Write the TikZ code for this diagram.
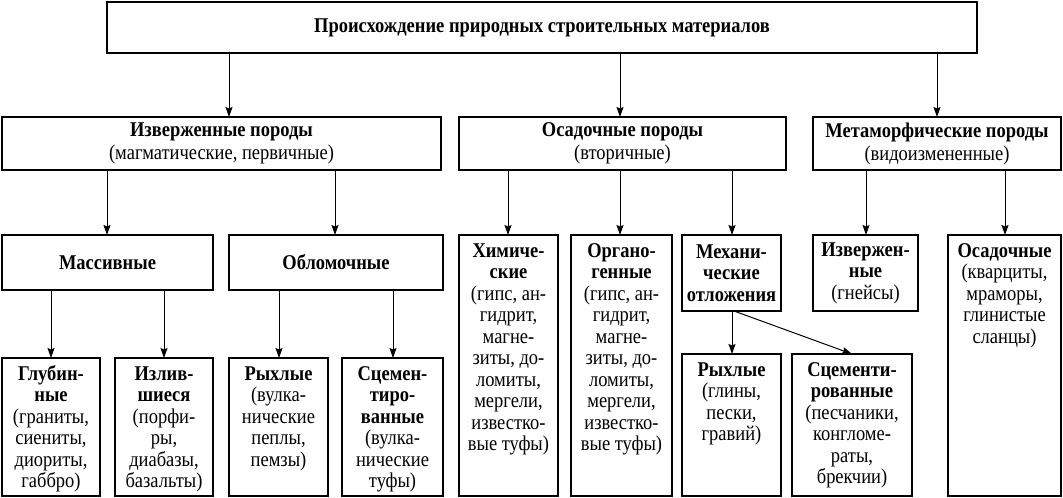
\documentclass[tikz,border=0pt]{standalone}
\usepackage{fontspec}
\setmainfont{Liberation Serif}[FakeStretch=0.88]
\usetikzlibrary{arrows.meta,calc}
\tikzset{
 box/.style={draw, line width=2.1pt, inner sep=0pt, outer sep=0pt, anchor=north west},
 arr/.style={-{Stealth[length=10pt,width=7pt,inset=1.5pt]}, line width=1pt},
}
\newcommand\bxc[3]{\parbox[c][#2][c]{#1}{\centering #3}}
\newcommand\bxt[3]{\parbox[c][#2][t]{#1}{\centering\vspace*{7pt}\strut #3}}
\begin{document}
\begin{tikzpicture}[x=1pt,y=-1pt,font=\fontsize{21}{21.5}\selectfont]
\useasboundingbox (0,0) rectangle (1063,498);
% row 1
\node[box] (top) at (107,2) {\bxc{870pt}{51pt}{\textbf{Происхождение природных строительных материалов}}};
% row 2
\node[box] (A) at (2,117) {\bxc{439pt}{53pt}{\fontsize{21}{23}\selectfont\textbf{Изверженные породы}\\(магматические, первичные)}};
\node[box] (B) at (459,117) {\bxc{327pt}{53pt}{\fontsize{21}{23}\selectfont\textbf{Осадочные породы}\\(вторичные)}};
\node[box] (C) at (813,117) {\bxc{248pt}{53pt}{\fontsize{21}{23}\selectfont\textbf{Метаморфические породы}\\(видоизмененные)}};
% row 3
\node[box] (A1) at (2,235) {\bxc{211pt}{55pt}{\textbf{Массивные}}};
\node[box] (A2) at (229,235) {\bxc{214pt}{55pt}{\textbf{Обломочные}}};
\node[box] (B1) at (459,235) {\bxt{99pt}{261pt}{\textbf{Химиче-\\ские}\\(гипс, ан-\\гидрит,\\магне-\\зиты, до-\\ломиты,\\мергели,\\известко-\\вые туфы)}};
\node[box] (B2) at (571,235) {\bxt{101pt}{261pt}{\textbf{Органо-\\генные}\\(гипс, ан-\\гидрит,\\магне-\\зиты, до-\\ломиты,\\мергели,\\известко-\\вые туфы)}};
\node[box] (B3) at (682,235) {\bxc{99pt}{76pt}{\textbf{Механи-\\ческие\\отложения}}};
\node[box] (C1) at (813,235) {\bxc{105pt}{76pt}{\textbf{Извержен-\\ные}\\(гнейсы)}};
\node[box] (C2) at (948,235) {\bxt{113pt}{261pt}{\textbf{Осадочные}\\(кварциты,\\мраморы,\\глинистые\\сланцы)}};
% row 4
\node[box] (A1a) at (2,358) {\bxt{98pt}{138pt}{\textbf{Глубин-\\ные}\\(граниты,\\сиениты,\\диориты,\\габбро)}};
\node[box] (A1b) at (115,358) {\bxt{98pt}{138pt}{\textbf{Излив-\\шиеся}\\(порфи-\\ры,\\диабазы,\\базальты)}};
\node[box] (A2a) at (229,358) {\bxt{99pt}{138pt}{\textbf{Рыхлые}\\(вулка-\\нические\\пеплы,\\пемзы)}};
\node[box] (A2b) at (342,358) {\bxt{101pt}{138pt}{\textbf{Сцемен-\\тиро-\\ванные}\\(вулка-\\нические\\туфы)}};
\node[box] (B3a) at (682,354) {\bxt{99pt}{142pt}{\textbf{Рыхлые}\\(глины,\\пески,\\гравий)}};
\node[box] (B3b) at (792,354) {\bxt{120pt}{142pt}{\textbf{Сцементи-\\рованные}\\(песчаники,\\конгломе-\\раты,\\брекчии)}};
% arrows
\draw[arr] ($(top.south west)+(122pt,0)$) -- ($(A.north west)+(227pt,0)$);
\draw[arr] ($(top.south west)+(513pt,0)$) -- ($(B.north west)+(161pt,0)$);
\draw[arr] ($(top.south west)+(830pt,0)$) -- ($(C.north west)+(124pt,0)$);
\draw[arr] ($(A.south west)+(105pt,0)$) -- ($(A1.north west)+(105pt,0)$);
\draw[arr] ($(A.south west)+(333pt,0)$) -- ($(A2.north west)+(106pt,0)$);
\draw[arr] ($(B.south west)+(49pt,0)$) -- ($(B1.north west)+(49pt,0)$);
\draw[arr] ($(B.south west)+(161pt,0)$) -- ($(B2.north west)+(49pt,0)$);
\draw[arr] ($(B.south west)+(273pt,0)$) -- ($(B3.north west)+(50pt,0)$);
\draw[arr] ($(C.south west)+(53pt,0)$) -- ($(C1.north west)+(53pt,0)$);
\draw[arr] ($(C.south west)+(192pt,0)$) -- ($(C2.north west)+(57pt,0)$);
\draw[arr] ($(A1.south west)+(49pt,0)$) -- ($(A1a.north west)+(49pt,0)$);
\draw[arr] ($(A1.south west)+(162pt,0)$) -- ($(A1b.north west)+(49pt,0)$);
\draw[arr] ($(A2.south west)+(50pt,0)$) -- ($(A2a.north west)+(50pt,0)$);
\draw[arr] ($(A2.south west)+(164pt,0)$) -- ($(A2b.north west)+(51pt,0)$);
\draw[arr] ($(B3.south west)+(50pt,0)$) -- ($(B3a.north west)+(50pt,0)$);
\draw[arr] ($(B3.south west)+(52pt,0)$) -- ($(B3b.north west)+(60pt,0)$);
\end{tikzpicture}
\end{document}
